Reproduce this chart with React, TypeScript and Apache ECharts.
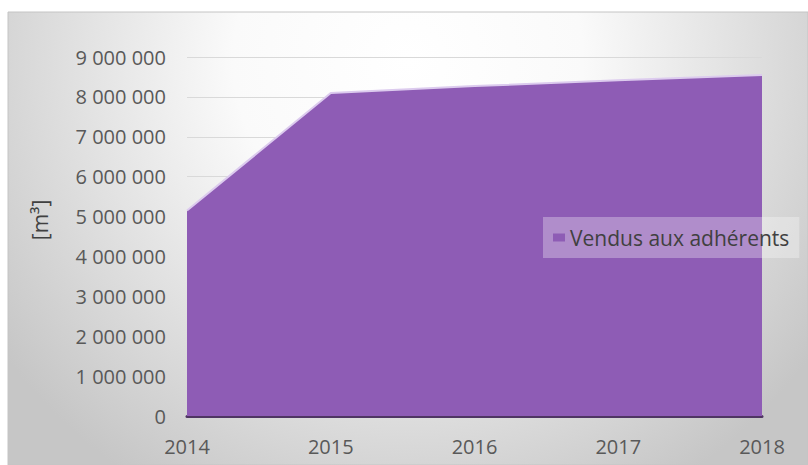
import React, { useEffect, useRef } from "react";
import * as echarts from "echarts";

const years = ["2014", "2015", "2016", "2017", "2018"];
const vendusAuxAdherents = [5150000, 8100000, 8270000, 8420000, 8550000];
const seriesName = "Vendus aux adhérents";
const yAxisName = "[m³]";
const yMin = 0;
const yMax = 9000000;
const yStep = 1000000;

const FONT = "'Open Sans', 'Liberation Sans', sans-serif";

function fmt(v: number): string {
  return String(Math.round(v)).replace(/\B(?=(\d{3})+(?!\d))/g, " ");
}

export default function App() {
  const ref = useRef<HTMLDivElement>(null);
  useEffect(() => {
    if (!ref.current) return;
    const chart = echarts.init(ref.current, undefined, { renderer: "svg" });
    chart.setOption({
      animation: false,
      graphic: [
        {
          type: "rect",
          z: -10,
          shape: { x: 8, y: 12, width: 800, height: 453 },
          style: {
            fill: new echarts.graphic.RadialGradient(
              408,
              60,
              500,
              [
                { offset: 0, color: "#ffffff" },
                { offset: 0.35, color: "#fafafa" },
                { offset: 1, color: "#c6c6c6" },
              ],
              true
            ),
            stroke: "#c4c4c4",
            lineWidth: 1,
          },
        },
        {
          type: "text",
          x: 40,
          y: 220,
          rotation: Math.PI / 2,
          style: {
            text: yAxisName,
            fill: "#404040",
            font: `21px ${FONT}`,
            textAlign: "center",
            textVerticalAlign: "middle",
          },
        },
      ],
      grid: { left: 187, right: 46, top: 57, bottom: 49, containLabel: false },
      legend: {
        data: [seriesName],
        left: 543,
        top: 217,
        padding: [10, 10],
        backgroundColor: "rgba(255,255,255,0.3)",
        icon: "rect",
        itemWidth: 12,
        itemHeight: 8,
        itemGap: 5,
        textStyle: { color: "#404040", fontSize: 21, fontFamily: FONT },
      },
      xAxis: {
        type: "category",
        data: years,
        boundaryGap: false,
        axisLine: { show: true, lineStyle: { color: "#4f3563", width: 3 } },
        axisTick: { show: false },
        axisLabel: {
          color: "#595959",
          fontSize: 20,
          fontFamily: FONT,
          margin: 20,
        },
        splitLine: { show: false },
      },
      yAxis: {
        type: "value",
        min: yMin,
        max: yMax,
        interval: yStep,
        axisLine: { show: false },
        axisTick: { show: false },
        axisLabel: {
          color: "#595959",
          fontSize: 20,
          fontFamily: FONT,
          margin: 21,
          formatter: (v: number) => fmt(v),
        },
        splitLine: { show: true, lineStyle: { color: "#d9d9d9", width: 1 } },
      },
      series: [
        {
          name: seriesName,
          type: "line",
          data: vendusAuxAdherents,
          symbol: "none",
          lineStyle: { color: "#dccbee", width: 2 },
          itemStyle: { color: "#8e5cb5" },
          areaStyle: { color: "#8e5cb5", opacity: 1 },
        },
      ],
    });
    return () => chart.dispose();
  }, []);
  return (
    <div
      ref={ref}
      style={{ position: "absolute", left: 0, top: 0, width: 808, height: 465 }}
    />
  );
}
